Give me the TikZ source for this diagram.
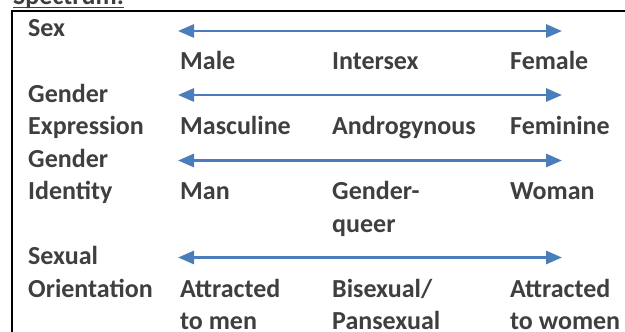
\documentclass[tikz,border=0pt]{standalone}
\usepackage{fontspec}
\setmainfont{Carlito}
\usepackage{xcolor}
\usetikzlibrary{arrows.meta,positioning}
\definecolor{ink}{HTML}{3F3F3F}
\definecolor{spanblue}{HTML}{4A7EBB}

\begin{document}
\begin{tikzpicture}
  [
    x=1pt, y=-1pt,
    Word/.style={anchor=base west, inner sep=0pt, text=ink, align=left,
      font=\fontsize{26}{32.5}\selectfont\bfseries},
    Span/.style={{Triangle[length=16pt,width=13pt]}-{Triangle[length=16pt,width=13pt]},
      draw=spanblue, line width=2.8pt},
    Frame/.style={draw=black, line width=2pt}
  ]
  \clip (0,0) rectangle (625,332);
  % Frame
  \draw[Frame] (12,11) rectangle (660,360);
  % Nodes
  \node[Word] (title) at (13,4.5) {Spectrum:};
  \draw[ink, line width=1.5pt] ([yshift=-3pt]title.base west) -- ([yshift=-3pt]title.base east);
  \node[Word] (sex) at (28,37) {Sex};
  \node[Word] (male) at (180,69.5) {Male};
  \node[Word] (intersex) at (332,69.5) {Intersex};
  \node[Word] (female) at (510,69.5) {Female};
  \node[Word] (expr) at (28,134.5) {Gender\\Expression};
  \node[Word] (masc) at (180,134.5) {Masculine};
  \node[Word] (andro) at (332,134.5) {Androgynous};
  \node[Word] (fem) at (510,134.5) {Feminine};
  \node[Word] (ident) at (28,199.5) {Gender\\Identity};
  \node[Word] (man) at (180,199.5) {Man};
  \node[Word] (gq) at (332,232) {Gender-\\queer};
  \node[Word] (woman) at (510,199.5) {Woman};
  \node[Word] (orient) at (28,297) {Sexual\\Orientation};
  \node[Word] (tomen) at (180,329.5) {Attracted\\to men};
  \node[Word] (bipan) at (332,329.5) {Bisexual/\\Pansexual};
  \node[Word] (towomen) at (510,329.5) {Attracted\\to women};
  \coordinate (sexL) at (178,31);
  \coordinate (sexR) at (562,31);
  \coordinate (exprL) at (178,95);
  \coordinate (exprR) at (562,95);
  \coordinate (identL) at (178,160.5);
  \coordinate (identR) at (562,160.5);
  \coordinate (orientL) at (178,257.5);
  \coordinate (orientR) at (562,257.5);
  % Lines
  \path [Span] (sexL) -- (sexR);
  \path [Span] (exprL) -- (exprR);
  \path [Span] (identL) -- (identR);
  \path [Span] (orientL) -- (orientR);
\end{tikzpicture}
\end{document}
